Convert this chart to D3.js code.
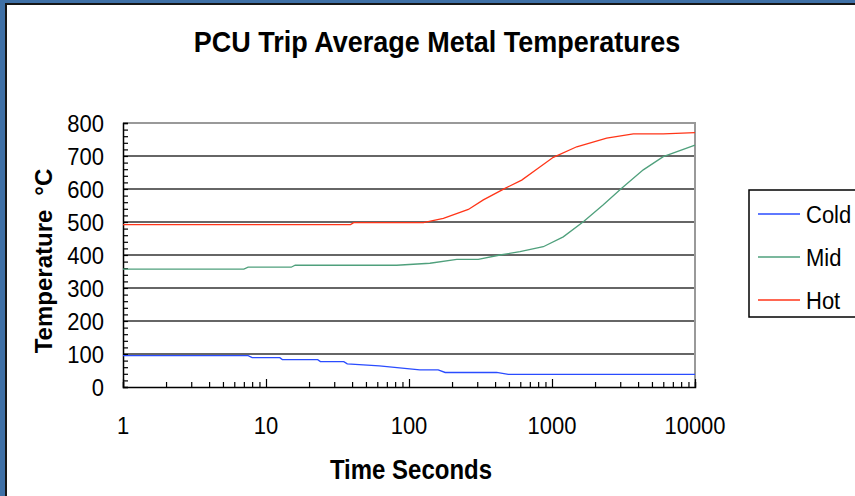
<!DOCTYPE html>
<html>
<head>
<meta charset="utf-8">
<script src="https://cdn.jsdelivr.net/npm/d3@7"></script>
<style>
  body { margin: 0; background: #fff; }
  text { font-family: "Liberation Sans", Arial, sans-serif; fill: #000; }
</style>
</head>
<body>
<div id="chart"></div>
<script>
// series data (time in seconds, temperature in °C)
const coldTime = [1, 7.5, 8, 12.5, 13, 23, 24, 35, 37, 62, 119, 160, 179, 410, 495, 10000];
const coldTemp = [95, 95, 89, 89, 83, 83, 77, 77, 70, 64, 52, 52, 44, 44, 38, 38];
const midTime = [1, 7, 7.5, 15, 16, 82, 140, 216, 305, 433, 597, 869, 1199, 1656, 2285, 3070, 4348, 6000, 10000];
const midTemp = [357, 357, 363, 363, 369, 369, 375, 387, 387, 400, 410, 425, 455, 501, 552, 602, 658, 698, 733];
const hotTime = [1, 39, 41, 126, 174, 260, 331, 469, 614, 782, 1021, 1489, 2411, 3704, 6000, 10000];
const hotTemp = [492, 492, 498, 498, 511, 538, 567, 602, 627, 660, 696, 728, 754, 767, 767, 771];

const seriesNames = ['Cold', 'Mid', 'Hot'];
const seriesColors = ['#2a4cff', '#4fa07c', '#ff3518'];
const xTickLabels = [1, 10, 100, 1000, 10000];
const yTickLabels = [0, 100, 200, 300, 400, 500, 600, 700, 800];

const width = 855;
const height = 496;
const plot = { left: 123, top: 123, right: 695, bottom: 387 };
const stretch = 1.12; // the text in the picture is a bit tall for its width

const svg = d3.select('#chart')
  .append('svg')
  .attr('width', width)
  .attr('height', height);

// window frame
svg.append('rect').attr('width', width).attr('height', height).attr('fill', '#3f70a6');
svg.append('rect').attr('x', 5).attr('y', 3).attr('width', width).attr('height', height).attr('fill', '#161616');
svg.append('rect').attr('x', 7).attr('y', 5).attr('width', width).attr('height', height).attr('fill', '#fff');

const x = d3.scaleLog().domain([1, 10000]).range([plot.left, plot.right]);
const y = d3.scaleLinear().domain([0, 800]).range([plot.bottom, plot.top]);

// gridlines
svg.append('g')
  .selectAll('line')
  .data(yTickLabels.filter(d => d > 0 && d < 800))
  .enter()
  .append('line')
  .attr('x1', plot.left)
  .attr('x2', plot.right)
  .attr('y1', d => y(d))
  .attr('y2', d => y(d))
  .attr('stroke', '#333')
  .attr('stroke-width', 1.5);

// plot border top/right
svg.append('path')
  .attr('d', `M${plot.left},${plot.top}H${plot.right}V${plot.bottom}`)
  .attr('fill', 'none')
  .attr('stroke', '#999')
  .attr('stroke-width', 2);

// y axis
const yAxis = svg.append('g')
  .attr('transform', `translate(${plot.left},0)`)
  .call(d3.axisRight(y).tickValues(d3.range(0, 801, 20)).tickSize(5).tickFormat(''));
yAxis.select('.domain').attr('stroke', '#000').attr('stroke-width', 1.5);
yAxis.selectAll('.tick line').attr('stroke', '#000').attr('stroke-width', 1.2);

svg.append('g')
  .selectAll('text')
  .data(yTickLabels)
  .enter()
  .append('text')
  .attr('transform', d => `translate(104,${y(d) + 8.5}) scale(1,${stretch})`)
  .attr('text-anchor', 'end')
  .attr('font-size', '22px')
  .text(d => d);

// x axis
const minorX = [];
for (let p = 0; p < 4; p++) {
  for (let m = 1; m < 10; m++) minorX.push(m * Math.pow(10, p));
}
minorX.push(10000);

const xAxis = svg.append('g')
  .attr('transform', `translate(0,${plot.bottom})`)
  .call(d3.axisTop(x).tickValues(minorX).tickSize(5).tickFormat(''));
xAxis.select('.domain').attr('stroke', '#000').attr('stroke-width', 1.5);
xAxis.selectAll('.tick line')
  .attr('stroke', '#000')
  .attr('stroke-width', 1.2)
  .attr('y2', d => xTickLabels.includes(d) ? -8 : -5);

svg.append('g')
  .selectAll('text')
  .data(xTickLabels)
  .enter()
  .append('text')
  .attr('transform', d => `translate(${x(d)},434) scale(1,${stretch})`)
  .attr('text-anchor', 'middle')
  .attr('font-size', '22px')
  .text(d => d);

// series lines
const series = [
  coldTime.map((t, i) => [t, coldTemp[i]]),
  midTime.map((t, i) => [t, midTemp[i]]),
  hotTime.map((t, i) => [t, hotTemp[i]])
];

const line = d3.line()
  .x(d => x(d[0]))
  .y(d => y(d[1]));

svg.append('g')
  .selectAll('path')
  .data(series)
  .enter()
  .append('path')
  .attr('d', line)
  .attr('fill', 'none')
  .attr('stroke', (d, i) => seriesColors[i])
  .attr('stroke-width', 1.3);

// titles
svg.append('text')
  .attr('transform', 'translate(437,52) scale(1,1.08)')
  .attr('text-anchor', 'middle')
  .attr('font-size', '27px')
  .attr('font-weight', 'bold')
  .text('PCU Trip Average Metal Temperatures');

svg.append('text')
  .attr('transform', `translate(411,479) scale(1,${stretch})`)
  .attr('text-anchor', 'middle')
  .attr('font-size', '24px')
  .attr('font-weight', 'bold')
  .text('Time Seconds');

const yTitle = svg.append('text')
  .attr('transform', 'translate(52,261) rotate(-90)')
  .attr('text-anchor', 'middle')
  .attr('font-size', '24px')
  .attr('font-weight', 'bold');
yTitle.append('tspan').text('Temperature');
yTitle.append('tspan').attr('dx', 14).text('°C');

// legend
const legend = svg.append('g');
legend.append('rect')
  .attr('x', 749)
  .attr('y', 190)
  .attr('width', 120)
  .attr('height', 127)
  .attr('fill', '#fff')
  .attr('stroke', '#000')
  .attr('stroke-width', 1.5);

const item = legend.selectAll('g.item')
  .data(seriesNames)
  .enter()
  .append('g')
  .attr('class', 'item')
  .attr('transform', (d, i) => `translate(0,${214 + i * 43})`);

item.append('line')
  .attr('x1', 758)
  .attr('x2', 800)
  .attr('stroke', (d, i) => seriesColors[i])
  .attr('stroke-width', 1.3);

item.append('text')
  .attr('transform', `translate(806,9) scale(1,${stretch})`)
  .attr('font-size', '22px')
  .text(d => d);
</script>
</body>
</html>
